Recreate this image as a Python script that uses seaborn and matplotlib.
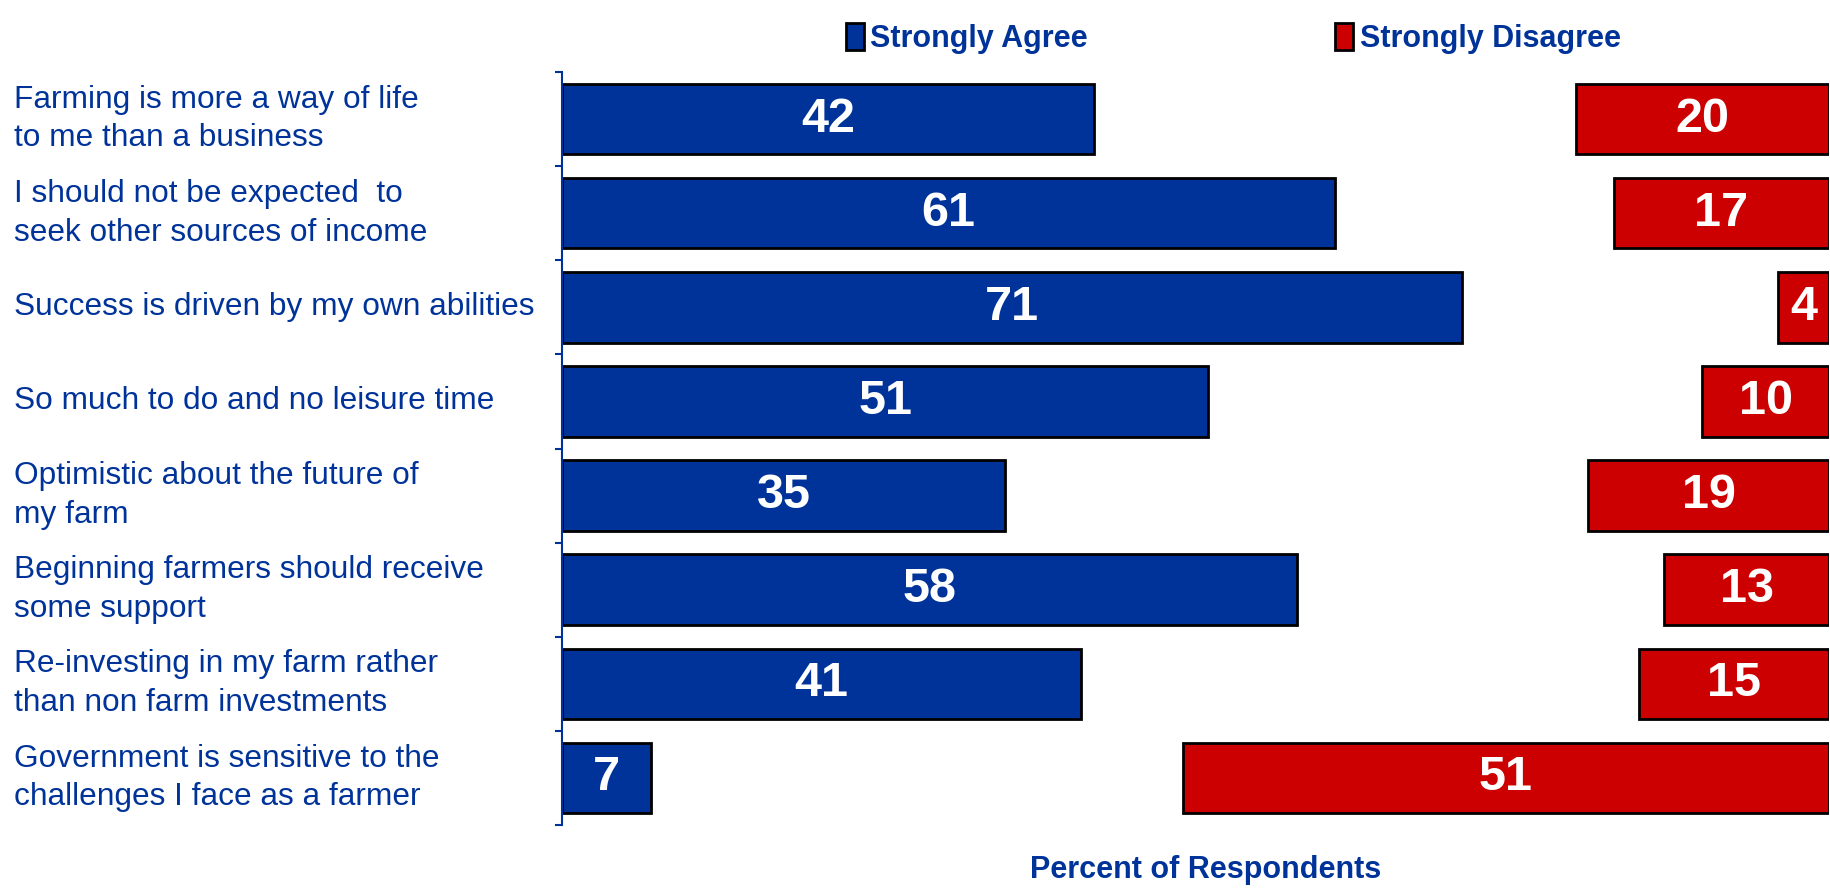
import numpy as np
import pandas as pd
import matplotlib
matplotlib.use("Agg")
import matplotlib.pyplot as plt
import matplotlib.transforms as mtransforms
from matplotlib.patches import Patch
import seaborn as sns

# =====================
# Data
# =====================
statements = [
    "Farming is more a way of life\nto me than a business",
    "I should not be expected  to\nseek other sources of income",
    "Success is driven by my own abilities",
    "So much to do and no leisure time",
    "Optimistic about the future of\nmy farm",
    "Beginning farmers should receive\nsome support",
    "Re-investing in my farm rather\nthan non farm investments",
    "Government is sensitive to the\nchallenges I face as a farmer",
]
agree = [42, 61, 71, 51, 35, 58, 41, 7]
disagree = [20, 17, 4, 10, 19, 13, 15, 51]
legend_labels = ["Strongly Agree", "Strongly Disagree"]
x_label = "Percent of Respondents"

BLUE = "#003399"
RED = "#CC0000"
TEXT = "#003399"

sns.set_theme(style="white")
plt.rcParams["font.family"] = ["Liberation Sans", "DejaVu Sans"]
NARROW = ["Liberation Sans Narrow", "Liberation Sans", "DejaVu Sans"]

df = pd.DataFrame({"statement": statements, "agree": agree, "disagree": disagree})
n = len(df)

fig = plt.figure(figsize=(18.31, 8.9), dpi=100)
ax = fig.add_axes([562 / 1831, 65 / 890, 1267 / 1831, 753 / 890])

# blue bars from the left
sns.barplot(data=df, x="agree", y="statement", color=BLUE, saturation=1,
            width=0.75, edgecolor="black", linewidth=2, ax=ax)
# red bars anchored at the right edge
red = ax.barh(np.arange(n), df["disagree"], left=100 - df["disagree"],
              height=0.75, color=RED, edgecolor="black", linewidth=2)

ax.set_xlim(0, 100)
ax.set_ylim(n - 0.5, -0.5)

for cont in [ax.containers[0], red]:
    ax.bar_label(cont, label_type="center", color="white", fontsize=35,
                 fontweight="bold", family=NARROW)

# axes styling
for side in ["top", "right", "bottom"]:
    ax.spines[side].set_visible(False)
ax.spines["left"].set_color(BLUE)
ax.spines["left"].set_linewidth(1.5)
ax.set_xticks([])
ax.set_yticks(np.arange(-0.5, n, 1))
ax.set_yticklabels([])
ax.tick_params(axis="y", left=True, length=5, width=1.5, color=BLUE)
ax.set_xlabel("")
ax.set_ylabel("")

# category labels, left aligned at the figure edge
trans = mtransforms.blended_transform_factory(fig.transFigure, ax.transData)
for i, s in enumerate(df["statement"]):
    ax.text(14 / 1831, i, s, transform=trans, ha="left", va="center",
            fontsize=22.8, color=TEXT, linespacing=1.38)

fig.text(1206 / 1831, 1 - 870 / 890, x_label, ha="center", va="center",
         fontsize=22, fontweight="bold", color=TEXT, family=NARROW)

handles = [Patch(facecolor=BLUE, edgecolor="black", linewidth=2, label=legend_labels[0]),
           Patch(facecolor=RED, edgecolor="black", linewidth=2, label=legend_labels[1])]
leg = fig.legend(handles=handles, loc="upper left", bbox_to_anchor=(818 / 1831, 1.005),
                 ncol=2, frameon=False, prop=dict(family=NARROW, weight="bold", size=22),
                 handlelength=0.6, handleheight=1.0, handletextpad=0.2, columnspacing=8.1)
for t in leg.get_texts():
    t.set_color(TEXT)

fig.savefig("out.png", dpi=100)
